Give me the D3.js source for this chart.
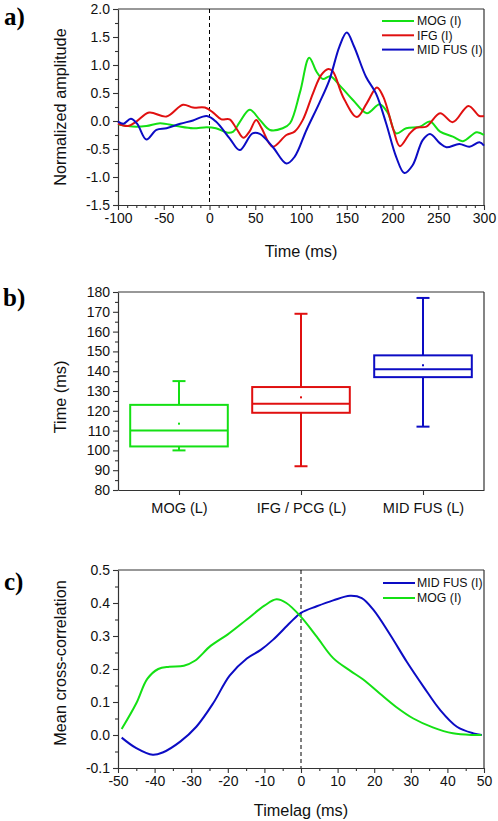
<!DOCTYPE html>
<html><head><meta charset="utf-8">
<script src="https://cdn.jsdelivr.net/npm/d3@7"></script>
<style>
body{margin:0;background:#fff;}
svg{display:block;font-family:"Liberation Sans",Arial,sans-serif;}
</style></head>
<body>
<svg id="chart" width="498" height="821"></svg>
<script>
// ---------- Panel a data ----------
const mogATime = [-100,-84,-69,-54,-36,-18,-3,7,20,26,33,44,55,66,80,88,99,109,117,124,132,142,157,172,186,195,204,215,230,241,252,266,277,292,300];
const mogAAmp  = [-0.06,-0.10,-0.09,-0.04,-0.09,-0.13,-0.11,-0.13,-0.21,-0.19,-0.02,0.20,0.02,-0.16,-0.13,-0.04,0.52,1.13,0.88,0.75,0.80,0.64,0.37,0.14,0.30,0.14,-0.22,-0.13,-0.10,-0.01,-0.19,-0.28,-0.36,-0.20,-0.25];
const ifgATime = [-100,-89,-80,-66,-47,-29,-18,-5,4,13,22,30,37,44,51,57,69,84,93,102,113,122,130,135,146,161,172,183,190,201,208,219,226,237,252,266,283,295,300];
const ifgAAmp  = [-0.05,-0.09,-0.01,0.15,0.08,0.29,0.24,0.24,0.15,0.03,0.03,-0.15,-0.30,-0.18,0.02,-0.13,-0.46,-0.25,-0.19,0.02,0.49,0.82,0.93,0.88,0.43,0.07,0.32,0.60,0.43,-0.16,-0.45,-0.22,-0.12,-0.10,0.14,-0.02,0.27,0.09,0.09];
const fusATime = [-100,-94,-86,-79,-69,-58,-47,-32,-18,-3,7,22,33,47,55,69,84,93,106,120,131,142,150,158,171,182,193,204,213,222,233,241,252,259,273,284,295,300];
const fusAAmp  = [-0.01,-0.05,0.04,-0.05,-0.33,-0.16,-0.13,-0.05,0.01,0.09,-0.01,-0.31,-0.52,-0.22,-0.23,-0.46,-0.76,-0.64,-0.16,0.32,0.73,1.33,1.58,1.33,0.79,0.49,-0.04,-0.64,-0.93,-0.79,-0.34,-0.23,-0.40,-0.47,-0.41,-0.46,-0.38,-0.44];
const aXTicks = [-100,-50,0,50,100,150,200,250,300];
const aYTicks = [-1.5,-1.0,-0.5,0.0,0.5,1.0,1.5,2.0];
const aLegend = ["MOG (I)","IFG (I)","MID FUS (I)"];

// ---------- Panel b data ----------
const bCategories = ["MOG (L)","IFG / PCG (L)","MID FUS (L)"];
const bWhiskLow = [100,92,112];
const bQ1       = [102,119,137];
const bMedian   = [110,123.5,141];
const bQ3       = [123,132,148];
const bWhiskHigh= [135,169,177];
const bMean     = [113.5,126.8,143];
const bYTicks   = [80,90,100,110,120,130,140,150,160,170,180];

// ---------- Panel c data ----------
const fusCLag  = [-49,-45,-40.5,-37.8,-33,-28.6,-24,-19.5,-14.8,-11,-7.6,-3,0,4.3,8.8,13.4,16.6,19.8,24.4,28.9,33.5,38,42.6,47.1,49.4];
const fusCCorr = [-0.008,-0.04,-0.06,-0.053,-0.02,0.025,0.096,0.18,0.232,0.258,0.289,0.34,0.37,0.39,0.408,0.422,0.415,0.379,0.303,0.222,0.146,0.076,0.025,0.005,0.0];
const mogCLag  = [-49,-45,-42,-39,-36,-32,-29,-24.7,-20,-14.8,-10,-6.7,-4,0,4.3,8.8,13.4,17,21.6,26,30.7,36,41.5,47,49.3];
const mogCCorr = [0.018,0.096,0.17,0.20,0.207,0.21,0.225,0.27,0.305,0.35,0.392,0.411,0.40,0.358,0.298,0.233,0.195,0.168,0.125,0.085,0.05,0.023,0.005,0.0,0.0];
const cXTicks = [-50,-40,-30,-20,-10,0,10,20,30,40,50];
const cYTicks = [-0.1,0.0,0.1,0.2,0.3,0.4,0.5];
const cLegend = ["MID FUS (I)","MOG (I)"];

const GREEN = "#14e014", RED = "#e01010", BLUE = "#0c0cc4";
const AXC = "#333";
const TICKFS = 14;

const svg = d3.select("#chart");
const L = 118, R = 484;

function frame(g, x0, x1, y0, y1) {
  g.append("line").attr("x1",x0).attr("x2",x1).attr("y1",y0).attr("y2",y0).attr("stroke",AXC).attr("stroke-width",1.2);
  g.append("line").attr("x1",x1).attr("x2",x1).attr("y1",y0).attr("y2",y1).attr("stroke",AXC).attr("stroke-width",1.2);
}
function styleAxis(sel, fs) {
  sel.select(".domain").attr("stroke",AXC).attr("stroke-width",1.2);
  sel.selectAll(".tick line").attr("stroke",AXC).attr("stroke-width",1.1);
  sel.selectAll(".tick text").attr("fill","#111").style("font-size",fs+"px").style("font-family","'Liberation Sans',Arial,sans-serif");
}
function minorAxis(g, axisFn, scale, vals, transform) {
  const a = g.append("g").attr("transform",transform).call(axisFn(scale).tickValues(vals).tickSize(3).tickFormat("").tickSizeOuter(0));
  a.select(".domain").remove();
  a.selectAll(".tick line").attr("stroke",AXC).attr("stroke-width",1.1);
}
function range(a,b,s){const r=[];for(let v=a;v<=b+1e-9;v+=s)r.push(+v.toFixed(6));return r;}

// ================= Panel a =================
{
  const T=9, B=205;
  const x = d3.scaleLinear().domain([-100,300]).range([L,R]);
  const y = d3.scaleLinear().domain([-1.5,2.0]).range([B,T]);
  const g = svg.append("g");
  frame(g,L,R,T,B);
  minorAxis(g,d3.axisBottom,x,range(-100,300,10).filter(v=>v%50!==0),`translate(0,${B})`);
  minorAxis(g,d3.axisLeft,y,range(-1.5,2.0,0.25).filter(v=>Math.abs(v*2-Math.round(v*2))>1e-6),`translate(${L},0)`);
  const ax = g.append("g").attr("transform",`translate(0,${B})`).call(d3.axisBottom(x).tickValues(aXTicks).tickSize(5).tickSizeOuter(0).tickPadding(3).tickFormat(d=>String(d)));
  styleAxis(ax,TICKFS);
  const ay = g.append("g").attr("transform",`translate(${L},0)`).call(d3.axisLeft(y).tickValues(aYTicks).tickSize(5).tickSizeOuter(0).tickPadding(3).tickFormat(d=>d.toFixed(1)));
  styleAxis(ay,TICKFS);
  g.append("line").attr("x1",x(0)).attr("x2",x(0)).attr("y1",T).attr("y2",B).attr("stroke","#000").attr("stroke-width",1).attr("stroke-dasharray","4,3");
  const line = d3.line().x(d=>x(d[0])).y(d=>y(d[1])).curve(d3.curveCatmullRom.alpha(0.5));
  const series = [[mogATime,mogAAmp,GREEN],[ifgATime,ifgAAmp,RED],[fusATime,fusAAmp,BLUE]];
  series.forEach(([t,v,c])=>{
    g.append("path").datum(t.map((d,i)=>[d,v[i]])).attr("d",line).attr("fill","none").attr("stroke",c).attr("stroke-width",2);
  });
  const cols=[GREEN,RED,BLUE];
  aLegend.forEach((lab,i)=>{
    const yy = 21 + i*14.3;
    g.append("line").attr("x1",382).attr("x2",414).attr("y1",yy).attr("y2",yy).attr("stroke",cols[i]).attr("stroke-width",2);
    g.append("text").attr("x",417).attr("y",yy+4.4).text(lab).style("font-size","12.3px").attr("fill","#111");
  });
  g.append("text").attr("transform",`translate(66,${(T+B)/2}) rotate(-90)`).attr("text-anchor","middle").text("Normalized amplitude").style("font-size","16.3px").attr("fill","#111");
  g.append("text").attr("x",301).attr("y",257).attr("text-anchor","middle").text("Time (ms)").style("font-size","16.3px").attr("fill","#111");
  g.append("text").attr("x",4).attr("y",25).text("a)").style("font-family","'Liberation Serif','Times New Roman',serif").style("font-weight","bold").style("font-size","25px");
}

// ================= Panel b =================
{
  const T=292, B=490;
  const x = d3.scaleBand().domain(bCategories).range([L,R]).paddingInner(0.2).paddingOuter(0.1);
  const y = d3.scaleLinear().domain([80,180]).range([B,T]);
  const g = svg.append("g");
  frame(g,L,R,T,B);
  minorAxis(g,d3.axisLeft,y,range(85,175,10),`translate(${L},0)`);
  const xc = d3.scalePoint().domain(bCategories).range([L,R]).padding(0.5);
  const ax = g.append("g").attr("transform",`translate(0,${B})`).call(d3.axisBottom(xc).tickSize(5).tickSizeOuter(0).tickPadding(8));
  styleAxis(ax,14.5);
  const ay = g.append("g").attr("transform",`translate(${L},0)`).call(d3.axisLeft(y).tickValues(bYTicks).tickSize(5).tickSizeOuter(0).tickPadding(3).tickFormat(d=>String(d)));
  styleAxis(ay,TICKFS);
  const cols=[GREEN,RED,BLUE];
  bCategories.forEach((c,i)=>{
    const cx = xc(c), bw = x.bandwidth(), x0 = cx-bw/2, cap=6.5;
    const col = cols[i];
    const gg = g.append("g").attr("stroke",col).attr("stroke-width",2).attr("fill","none");
    gg.append("line").attr("x1",cx).attr("x2",cx).attr("y1",y(bWhiskHigh[i])).attr("y2",y(bQ3[i]));
    gg.append("line").attr("x1",cx).attr("x2",cx).attr("y1",y(bQ1[i])).attr("y2",y(bWhiskLow[i]));
    gg.append("line").attr("x1",cx-cap).attr("x2",cx+cap).attr("y1",y(bWhiskHigh[i])).attr("y2",y(bWhiskHigh[i]));
    gg.append("line").attr("x1",cx-cap).attr("x2",cx+cap).attr("y1",y(bWhiskLow[i])).attr("y2",y(bWhiskLow[i]));
    gg.append("rect").attr("x",x0).attr("width",bw).attr("y",y(bQ3[i])).attr("height",y(bQ1[i])-y(bQ3[i]));
    gg.append("line").attr("x1",x0).attr("x2",x0+bw).attr("y1",y(bMedian[i])).attr("y2",y(bMedian[i]));
    g.append("rect").attr("x",cx-1).attr("y",y(bMean[i])-1).attr("width",2).attr("height",2).attr("fill",col);
  });
  g.append("text").attr("transform",`translate(66,${(T+B)/2+6}) rotate(-90)`).attr("text-anchor","middle").text("Time (ms)").style("font-size","16.3px").attr("fill","#111");
  g.append("text").attr("x",3).attr("y",306).text("b)").style("font-family","'Liberation Serif','Times New Roman',serif").style("font-weight","bold").style("font-size","25px");
}

// ================= Panel c =================
{
  const T=570, B=768;
  const x = d3.scaleLinear().domain([-50,50]).range([L,R]);
  const y = d3.scaleLinear().domain([-0.1,0.5]).range([B,T]);
  const g = svg.append("g");
  frame(g,L,R,T,B);
  minorAxis(g,d3.axisBottom,x,range(-45,45,10),`translate(0,${B})`);
  minorAxis(g,d3.axisLeft,y,range(-0.05,0.45,0.1),`translate(${L},0)`);
  const ax = g.append("g").attr("transform",`translate(0,${B})`).call(d3.axisBottom(x).tickValues(cXTicks).tickSize(5).tickSizeOuter(0).tickPadding(3).tickFormat(d=>String(d)));
  styleAxis(ax,TICKFS);
  const ay = g.append("g").attr("transform",`translate(${L},0)`).call(d3.axisLeft(y).tickValues(cYTicks).tickSize(5).tickSizeOuter(0).tickPadding(3).tickFormat(d=>d.toFixed(1)));
  styleAxis(ay,TICKFS);
  g.append("line").attr("x1",x(0)).attr("x2",x(0)).attr("y1",T).attr("y2",B).attr("stroke","#000").attr("stroke-width",1).attr("stroke-dasharray","4,3");
  const line = d3.line().x(d=>x(d[0])).y(d=>y(d[1])).curve(d3.curveCatmullRom.alpha(0.5));
  [[fusCLag,fusCCorr,BLUE],[mogCLag,mogCCorr,GREEN]].forEach(([t,v,c])=>{
    g.append("path").datum(t.map((d,i)=>[d,v[i]])).attr("d",line).attr("fill","none").attr("stroke",c).attr("stroke-width",2);
  });
  const cols=[BLUE,GREEN];
  cLegend.forEach((lab,i)=>{
    const yy = 583 + i*15;
    g.append("line").attr("x1",383).attr("x2",415).attr("y1",yy).attr("y2",yy).attr("stroke",cols[i]).attr("stroke-width",2);
    g.append("text").attr("x",417).attr("y",yy+4.4).text(lab).style("font-size","12.3px").attr("fill","#111");
  });
  g.append("text").attr("transform",`translate(66,${(T+B)/2-6}) rotate(-90)`).attr("text-anchor","middle").text("Mean cross-correlation").style("font-size","16.3px").attr("fill","#111");
  g.append("text").attr("x",301).attr("y",816).attr("text-anchor","middle").text("Timelag (ms)").style("font-size","16.3px").attr("fill","#111");
  g.append("text").attr("x",4).attr("y",590).text("c)").style("font-family","'Liberation Serif','Times New Roman',serif").style("font-weight","bold").style("font-size","25px");
}
</script>
</body></html>
